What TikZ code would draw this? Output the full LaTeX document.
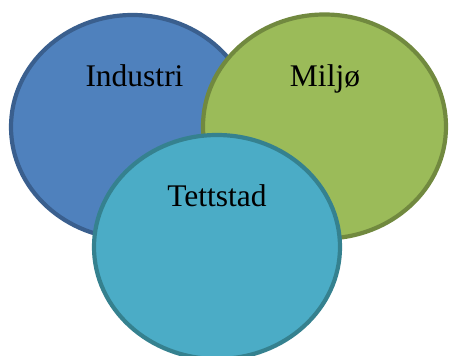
\documentclass[tikz,border=0pt]{standalone}
\usepackage{fontspec}
\setmainfont{Liberation Serif}
\usetikzlibrary{shapes.geometric}
\definecolor{bluefill}{HTML}{4F81BD}
\definecolor{bluedraw}{HTML}{3A5F8E}
\definecolor{greenfill}{HTML}{9BBB59}
\definecolor{greendraw}{HTML}{71893F}
\definecolor{tealfill}{HTML}{4BACC6}
\definecolor{tealdraw}{HTML}{35818F}
\tikzset{
  circ/.style={ellipse, inner sep=0pt, outer sep=0pt, line width=4.2pt, minimum width=243pt, minimum height=224pt},
  lbl/.style={anchor=base, inner sep=0pt, font=\fontsize{31.5}{36}\selectfont}
}
\begin{document}
\begin{tikzpicture}[x=1pt,y=1pt]
\useasboundingbox (0,0) rectangle (450,356);
\node[circ, fill=bluefill, draw=bluedraw] (ind) at (132.5,229) {};
\node[circ, fill=greenfill, draw=greendraw] (mil) at (324.5,229.5) {};
\node[circ, fill=tealfill, draw=tealdraw, minimum width=246pt] (tet) at (217,109) {};
\node[lbl] (tind) at (134.5,269) {Industri};
\node[lbl] (tmil) at (325,269) {Miljø};
\node[lbl] (ttet) at (217,149) {Tettstad};
\end{tikzpicture}
\end{document}
